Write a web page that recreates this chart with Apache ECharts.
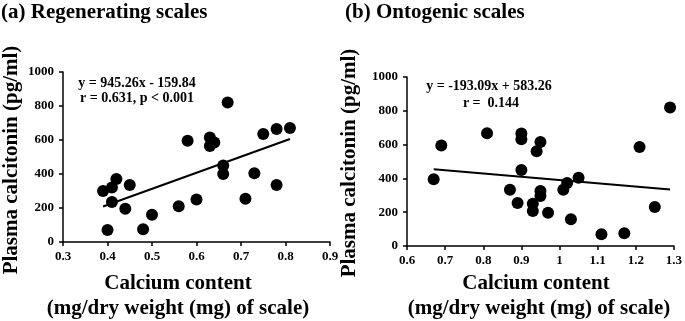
<!DOCTYPE html>
<html><head><meta charset="utf-8">
<script src="https://cdn.jsdelivr.net/npm/echarts@6/dist/echarts.min.js"></script>
<style>html,body{margin:0;padding:0;background:#fff}#c{width:685px;height:321px}</style>
</head><body><div id="c"></div>
<script>
// Panel (a) Regenerating scales
var regenCalcium = [0.39,0.40,0.41,0.41,0.42,0.44,0.45,0.48,0.50,0.56,0.58,0.60,0.63,0.63,0.64,0.66,0.66,0.67,0.71,0.73,0.75,0.78,0.78,0.81];
var regenCalcitonin = [300,70,320,235,370,195,335,75,160,210,595,250,615,565,585,450,400,820,255,405,635,665,335,670];
var regenTrend = [[0.39,209],[0.81,606]];
// Panel (b) Ontogenic scales
var ontoCalcium = [0.67,0.69,0.81,0.87,0.89,0.90,0.90,0.90,0.93,0.93,0.94,0.95,0.95,0.95,0.97,1.01,1.02,1.03,1.05,1.11,1.17,1.21,1.25,1.29];
var ontoCalcitonin = [395,595,667,333,254,665,631,450,250,207,560,615,325,296,197,333,373,158,404,69,75,586,231,819];
var ontoTrend = [[0.67,454],[1.29,334]];
var yTicks = [0,200,400,600,800,1000];

var FONT = '"Liberation Serif", "Times New Roman", serif';
function pairs(xs, ys){ return xs.map(function(x,i){ return [x, ys[i]]; }); }
function xAxis(idx, min, max){
  return {gridIndex: idx, type:'value', min:min, max:max, interval:0.1,
    axisLine:{show:true, onZero:false, lineStyle:{color:'#000', width:1.5}},
    axisTick:{show:true, length:4, lineStyle:{color:'#000', width:1.5}},
    splitLine:{show:false},
    axisLabel:{color:'#000', fontFamily:FONT, fontWeight:'bold', fontSize:13, margin:8,
      formatter:function(v){ return String(Math.round(v*10)/10); }}};
}
function yAxis(idx){
  return {gridIndex: idx, type:'value', min:yTicks[0], max:yTicks[yTicks.length-1], interval:yTicks[1]-yTicks[0],
    axisLine:{show:true, lineStyle:{color:'#000', width:1.5}},
    axisTick:{show:true, length:4, lineStyle:{color:'#000', width:1.5}},
    splitLine:{show:false},
    axisLabel:{color:'#000', fontFamily:FONT, fontWeight:'bold', fontSize:13, margin:9,
      formatter:function(v){ return String(v); }}};
}
function txt(x, y, s, size, rot, align){
  return {type:'text', x:x, y:y, rotation: rot||0,
    style:{text:s, fill:'#000', fontFamily:FONT, fontWeight:'bold', fontSize:size, align:align||'center', verticalAlign:'middle'}};
}
var chart = echarts.init(document.getElementById('c'), null, {renderer:'canvas'});
chart.setOption({
  animation:false,
  backgroundColor:'#fff',
  grid:[
    {left:63, top:72, width:267, height:170},
    {left:407, top:77, width:270, height:169}
  ],
  xAxis:[xAxis(0,0.3,0.9), xAxis(1,0.6,1.3)],
  yAxis:[yAxis(0), yAxis(1)],
  series:[
    {type:'scatter', xAxisIndex:0, yAxisIndex:0, data:pairs(regenCalcium, regenCalcitonin), symbolSize:12, itemStyle:{color:'#000', opacity:1}},
    {type:'line', xAxisIndex:0, yAxisIndex:0, data:regenTrend, symbol:'none', lineStyle:{color:'#000', width:2}},
    {type:'scatter', xAxisIndex:1, yAxisIndex:1, data:pairs(ontoCalcium, ontoCalcitonin), symbolSize:12, itemStyle:{color:'#000', opacity:1}},
    {type:'line', xAxisIndex:1, yAxisIndex:1, data:ontoTrend, symbol:'none', lineStyle:{color:'#000', width:2}}
  ],
  graphic:[
    txt(1, 13, '(a) Regenerating scales', 21, 0, 'left'),
    txt(345, 13, '(b) Ontogenic scales', 21, 0, 'left'),
    txt(12, 160, 'Plasma calcitonin (pg/ml)', 21, Math.PI/2),
    txt(350, 163, 'Plasma calcitonin (pg/ml)', 21, Math.PI/2),
    txt(178, 284, 'Calcium content', 21),
    txt(178, 309, '(mg/dry weight (mg) of scale)', 21),
    txt(536, 284, 'Calcium content', 21),
    txt(539, 309, '(mg/dry weight (mg) of scale)', 21),
    txt(137, 83, 'y = 945.26x - 159.84', 14),
    txt(137, 98, 'r = 0.631, p < 0.001', 14),
    txt(489, 86, 'y = -193.09x + 583.26', 14),
    txt(491, 103, 'r =  0.144', 14)
  ]
});
</script></body></html>
